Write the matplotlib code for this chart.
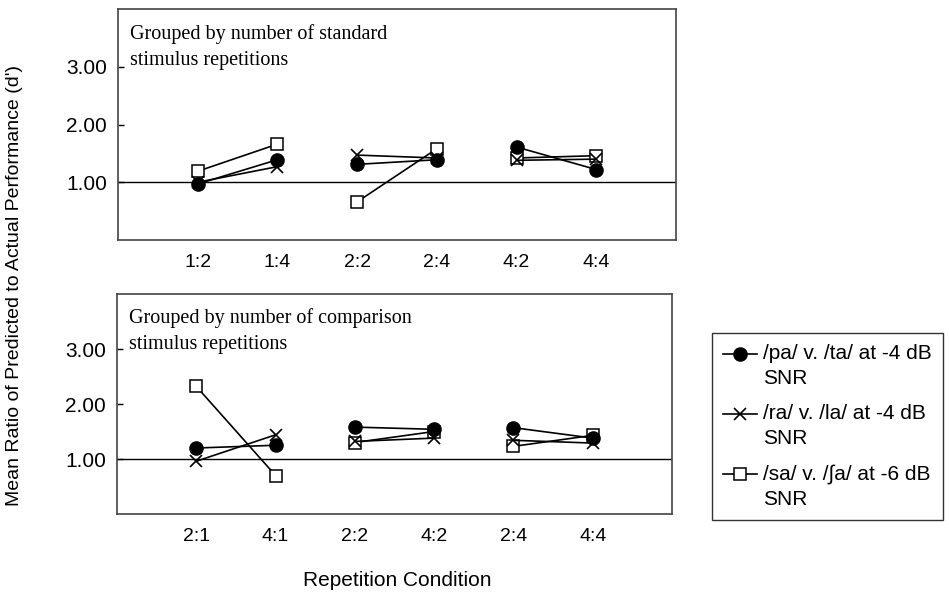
import matplotlib
matplotlib.use("Agg")
from matplotlib import pyplot as plt
from matplotlib.lines import Line2D
from matplotlib.legend_handler import HandlerLine2D

plt.rcParams['font.family'] = 'Liberation Sans'

# top panel: grouped by number of standard stimulus repetitions
top_labels = ["1:2", "1:4", "2:2", "2:4", "4:2", "4:4"]
top_pa = [0.97, 1.39, 1.31, 1.39, 1.61, 1.22]
top_ra = [1.00, 1.27, 1.47, 1.42, 1.38, 1.40]
top_sa = [1.19, 1.66, 0.66, 1.58, 1.42, 1.46]

# bottom panel: grouped by number of comparison stimulus repetitions
bot_labels = ["2:1", "4:1", "2:2", "4:2", "2:4", "4:4"]
bot_pa = [1.20, 1.25, 1.58, 1.54, 1.57, 1.38]
bot_ra = [0.96, 1.44, 1.32, 1.38, 1.34, 1.29]
bot_sa = [2.32, 0.70, 1.30, 1.50, 1.23, 1.43]

series_names = ["/pa/ v. /ta/ at -4 dB\nSNR",
                "/ra/ v. /la/ at -4 dB\nSNR",
                "/sa/ v. /\u222Ba/ at -6 dB\nSNR"]
styles = [dict(marker='o', markersize=9.5, markerfacecolor='black', markeredgecolor='black'),
          dict(marker='x', markersize=9, markeredgewidth=1.2, markeredgecolor='black'),
          dict(marker='s', markersize=8, markerfacecolor='white', markeredgecolor='black',
               markeredgewidth=1.1)]


class FirstLineHandler(HandlerLine2D):
    # put the legend handle level with the first line of a two-line label
    def create_artists(self, legend, orig_handle, xdescent, ydescent, width, height,
                       fontsize, trans):
        return super().create_artists(legend, orig_handle, xdescent, ydescent - 18,
                                      width, height, fontsize, trans)


fig = plt.figure(figsize=(9.49, 5.93), dpi=100)
ax_top = fig.add_axes([0.1243, 0.5953, 0.588, 0.3895])
ax_bot = fig.add_axes([0.1233, 0.1332, 0.5848, 0.371])


def draw_panel(ax, labels, series, title):
    x = list(range(1, len(labels) + 1))
    ax.axhline(1.0, color='black', lw=1.0, zorder=1)
    # draw back to front: squares, crosses, circles
    for vals, st in zip(series[::-1], styles[::-1]):
        for i in range(0, len(x), 2):
            ax.plot(x[i:i + 2], vals[i:i + 2], color='black', lw=1.2, zorder=3, **st)
    ax.set_xlim(0, 7)
    ax.set_ylim(0, 4)
    ax.set_yticks([1, 2, 3])
    ax.set_yticklabels(["1.00", "2.00", "3.00"])
    ax.set_xticks(x)
    ax.set_xticklabels(labels)
    ax.tick_params(axis='y', direction='in', length=4, width=1, labelsize=15, pad=8)
    ax.tick_params(axis='x', length=0, labelsize=14, pad=10)
    for sp in ax.spines.values():
        sp.set_color('#444444')
        sp.set_linewidth(1.2)
    ax.text(0.022, 0.935, title, transform=ax.transAxes, ha='left', va='top',
            fontsize=14.5, family='Liberation Serif', linespacing=1.5)


draw_panel(ax_top, top_labels, [top_pa, top_ra, top_sa],
           "Grouped by number of standard\nstimulus repetitions")
draw_panel(ax_bot, bot_labels, [bot_pa, bot_ra, bot_sa],
           "Grouped by number of comparison\nstimulus repetitions")

fig.text(15 / 949, 1 - 286 / 593, "Mean Ratio of Predicted to Actual Performance (d')",
         rotation=90, ha='center', va='center', fontsize=14)
fig.text(397 / 949, 1 - 580 / 593, "Repetition Condition", ha='center', va='center', fontsize=15)

handles = [Line2D([], [], color='black', lw=1.2, **st) for st in styles]
leg = fig.legend(handles, series_names, loc='upper left',
                 bbox_to_anchor=(712 / 949, 1 - 333 / 593), borderaxespad=0,
                 fontsize=15, frameon=True, fancybox=False, edgecolor='black',
                 handlelength=1.6, handletextpad=0.3, labelspacing=0.78,
                 borderpad=0.55, handler_map={Line2D: FirstLineHandler()})
leg.get_frame().set_linewidth(1.0)
for t in leg.get_texts():
    t.set_linespacing(1.38)

fig.savefig("out.png", dpi=100)
